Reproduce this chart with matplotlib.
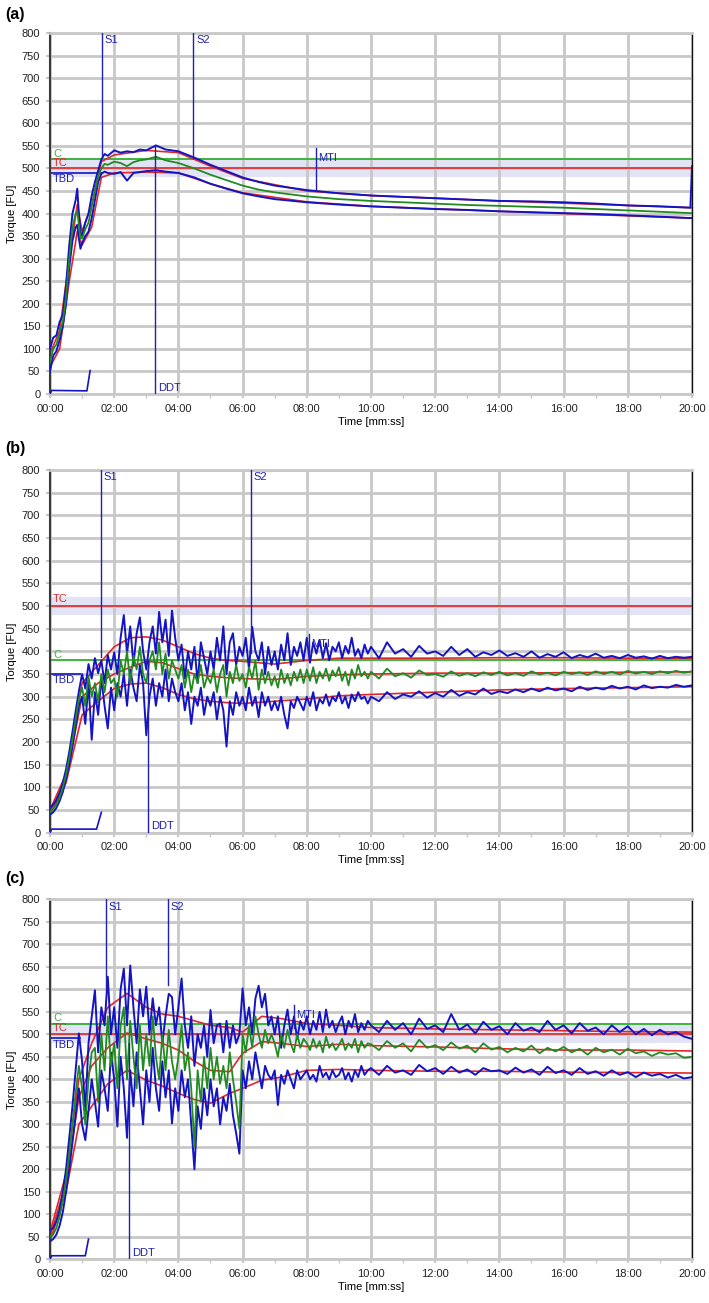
import numpy as np
import matplotlib
matplotlib.use('Agg')
import matplotlib.pyplot as plt
from matplotlib.ticker import MultipleLocator

plt.rcParams['font.family'] = ['Liberation Sans', 'DejaVu Sans']

# colours
BLUE = '#1414c4'
GREEN = '#218a21'
CGREEN = '#3cb43c'
RED = '#e02828'
MARK = '#2020b4'
GRID = '#c8c8c8'
BAND = '#e3e3f6'

# tick labels (minutes on the axis)
xtick_pos = [0, 2, 4, 6, 8, 10, 12, 14, 16, 18, 20]
xtick_labels = ['00:00', '02:00', '04:00', '06:00', '08:00', '10:00',
                '12:00', '14:00', '16:00', '18:00', '20:00']
ytick_pos = list(range(0, 801, 50))

# ---------------- panel (a) ----------------
t_a = [0, 0.1, 0.2, 0.3, 0.4, 0.5, 0.6, 0.7, 0.8, 0.85, 0.9, 0.95, 1.0, 1.1, 1.2,
       1.3, 1.4, 1.5, 1.6, 1.7, 1.8, 2.0, 2.2, 2.4, 2.6, 2.8, 3.0, 3.3, 3.6, 4.0,
       4.5, 5.0, 5.5, 6.0, 6.5, 7.0, 8.0, 9.0, 10, 11, 12, 13, 14, 15, 16, 17, 18,
       19, 19.95, 20]
upper_a = [100, 125, 130, 160, 175, 240, 330, 400, 430, 455, 400, 360, 350, 380, 400,
           440, 470, 495, 520, 532, 528, 540, 535, 538, 536, 542, 540, 551, 542, 538,
           524, 508, 494, 480, 470, 462, 452, 445, 440, 437, 434, 431, 428, 427, 425, 422, 418,
           416, 413, 505]
lower_a = [50, 85, 95, 120, 150, 200, 280, 340, 370, 375, 345, 322, 335, 350, 360,
           390, 430, 470, 488, 493, 490, 488, 492, 473, 490, 492, 494, 496, 493, 490,
           480, 466, 455, 445, 438, 432, 425, 420, 416, 413, 410, 408, 405, 403, 401, 399, 396,
           393, 390, 390]
green_a = [70, 100, 110, 135, 160, 215, 300, 370, 400, 405, 375, 345, 345, 365, 380,
           415, 450, 482, 500, 510, 508, 515, 512, 505, 514, 518, 520, 526, 518, 512,
           500, 486, 474, 462, 453, 447, 438, 432, 428, 425, 422, 419, 417, 415, 413, 410, 407,
           404, 401, 401]
t_red_a = [0, 0.3, 0.6, 0.85, 1.0, 1.3, 1.6, 2.0, 3.0, 4.0, 5.0, 6.0, 8.0, 10, 14, 20]
red_up_a = [90, 140, 300, 420, 360, 420, 515, 530, 540, 535, 505, 478, 450, 440, 428, 413]
red_lo_a = [60, 100, 250, 360, 330, 370, 480, 490, 492, 490, 466, 446, 426, 416, 405, 390]
t_small_a = [0, 0.05, 1.15, 1.25]
small_a = [0, 8, 7, 52]

# ---------------- panel (b) ----------------
t_noisy = np.concatenate([np.arange(0, 10, 0.1), np.arange(10, 20.01, 0.25)])
upper_b = [55, 62, 72, 88, 110, 140, 178, 222, 268, 312,
           350, 318, 372, 340, 385, 352, 380, 330, 392, 360,
           398, 350, 430, 480, 395, 455, 370, 440, 475, 400,
           360, 420, 455, 395, 487, 420, 470, 390, 490, 430,
           380, 415, 340, 400, 360, 410, 330, 420, 385, 350,
           400, 360, 430, 380, 455, 350, 420, 440, 370, 410,
           390, 430, 360, 454, 400, 380, 420, 350, 410, 370,
           400, 360, 415, 380, 440, 370, 410, 390, 420, 380,
           430, 375, 420, 395, 425, 385, 418, 380, 410, 400,
           420, 385, 412, 395, 430, 390, 405, 385, 415, 395,
           410, 385, 420, 395, 405, 388, 412, 395, 400, 390, 410, 392, 405, 388,
           398, 392, 402, 390, 396, 388, 400, 386, 394, 388, 398, 385, 392, 387,
           395, 386, 390, 385, 392, 386, 389, 384, 390, 385, 388, 386, 388]
lower_b = [40, 45, 55, 70, 90, 118, 150, 190, 235, 280,
           300, 240, 330, 205, 310, 260, 340, 280, 230, 320,
           270, 330, 300, 350, 280, 360, 320, 290, 370, 330,
           215, 300, 340, 280, 330, 300, 360, 290, 340, 310,
           290, 330, 270, 310, 240, 300, 280, 320, 260, 300,
           280, 310, 250, 300, 270, 190, 290, 260, 310, 280,
           300, 270, 320, 280, 300, 255, 310, 280, 300, 270,
           290, 270, 300, 260, 230, 290, 275, 300, 285, 270,
           300, 280, 310, 270, 295, 285, 305, 280, 300, 290,
           310, 285, 300, 275, 305, 290, 310, 295, 300, 285,
           300, 290, 310, 295, 305, 300, 312, 298, 308, 300, 315, 302, 310, 305,
           318, 306, 312, 308, 316, 310, 318, 312, 320, 314, 318, 312, 322, 315,
           320, 316, 324, 318, 322, 316, 325, 319, 322, 320, 326, 322, 325]
green_b = [45, 52, 62, 78, 100, 128, 165, 205, 250, 295,
           320, 280, 345, 300, 330, 290, 350, 310, 360, 330,
           340, 300, 380, 350, 400, 330, 390, 360, 410, 350,
           330, 380, 400, 360, 420, 350, 395, 340, 380, 360,
           340, 370, 320, 360, 310, 350, 330, 370, 320, 345,
           330, 360, 310, 350, 370, 300, 355, 330, 370, 335,
           350, 320, 365, 340, 380, 315, 360, 330, 355, 325,
           345, 320, 360, 330, 350, 325, 355, 335, 360, 330,
           360, 335, 365, 330, 355, 340, 362, 335, 358, 345,
           365, 335, 355, 325, 360, 340, 370, 345, 355, 340,
           355, 340, 362, 345, 352, 342, 358, 348, 350, 344, 356, 346, 352, 345,
           354, 348, 355, 347, 352, 346, 356, 349, 353, 347, 355, 350, 354, 348,
           356, 350, 355, 349, 357, 351, 355, 350, 356, 352, 357, 353, 356]
t_red_b = [0, 0.5, 1, 1.5, 2, 2.5, 3, 3.5, 4, 4.5, 5, 5.5, 6, 7, 8, 9, 10, 12, 14, 16, 18, 20]
red_up_b = [50, 130, 330, 370, 410, 430, 432, 425, 410, 395, 385, 380, 378, 372, 380, 385, 385, 385, 386, 386, 385, 385]
red_mid_b = [45, 120, 300, 330, 350, 365, 378, 375, 362, 350, 345, 342, 340, 338, 345, 348, 350, 352, 352, 353, 354, 355]
red_lo_b = [40, 110, 260, 290, 318, 328, 330, 320, 305, 295, 290, 287, 285, 290, 295, 302, 305, 310, 315, 318, 320, 322]
t_small_b = [0, 0.05, 1.45, 1.6]
small_b = [0, 8, 8, 45]

# ---------------- panel (c) ----------------
upper_c = [65, 70, 85, 110, 150, 200, 270, 340, 420, 502,
           440, 330, 480, 540, 598, 460, 560, 520, 628, 500,
           560, 470, 600, 646, 520, 653, 560, 480, 600, 540,
           606, 500, 580, 520, 560, 480, 540, 590, 583, 500,
           560, 624, 520, 470, 540, 430, 500, 470, 520, 450,
           554, 480, 520, 524, 460, 530, 470, 520, 480, 500,
           602, 520, 560, 500, 580, 608, 560, 590, 520, 540,
           500, 540, 470, 520, 555, 500, 540, 490, 530, 510,
           540, 500, 530, 510, 550, 505, 555, 515, 530, 505,
           525, 540, 500, 530, 515, 545, 505, 525, 510, 530,
           520, 505, 530, 510, 525, 500, 535, 512, 520, 505, 545, 510, 522, 502,
           528, 510, 518, 500, 525, 508, 515, 505, 530, 510, 520, 502, 525, 508,
           515, 500, 520, 505, 518, 500, 512, 498, 510, 500, 505, 495, 490]
lower_c = [40, 45, 55, 75, 105, 150, 200, 260, 320, 380,
           300, 265, 330, 400, 350, 295, 420, 380, 330, 460,
           400, 295, 450, 380, 270, 420, 340, 460, 380, 300,
           420, 350, 470, 380, 330, 440, 360, 420, 302, 380,
           330, 420, 360, 400, 300, 200, 340, 290, 380, 320,
           400, 340, 380, 300, 360, 330, 390, 320, 280, 235,
           420, 380, 440, 400, 460, 420, 380, 430, 410, 400,
           420, 343, 410, 390, 420, 400, 380, 420, 400, 410,
           420, 400, 410, 395, 430, 405, 415, 400, 420, 405,
           410, 425, 400, 415, 395, 420, 405, 430, 410, 420,
           425, 410, 430, 415, 420, 410, 432, 418, 425, 412, 428, 415, 422, 410,
           425, 418, 420, 412, 426, 415, 422, 410, 428, 414, 420, 410, 425, 412,
           418, 408, 420, 410, 416, 405, 415, 408, 412, 404, 410, 402, 405]
green_c = [50, 55, 70, 95, 130, 175, 235, 300, 370, 430,
           380, 300, 400, 460, 470, 350, 500, 420, 540, 430,
           480, 380, 520, 560, 400, 530, 450, 380, 520, 420,
           500, 430, 540, 450, 400, 500, 420, 510, 440, 400,
           450, 520, 420, 460, 380, 250, 420, 350, 450, 380,
           470, 400, 450, 390, 430, 380, 460, 400, 350, 290,
           500, 460, 520, 470, 540, 500, 470, 510, 480, 500,
           480, 450, 500, 470, 510, 480, 460, 500, 470, 490,
           480, 465, 490, 470, 485, 460, 495, 470, 480, 465,
           475, 490, 465, 480, 470, 490, 460, 485, 470, 480,
           478, 465, 485, 470, 480, 462, 488, 470, 476, 465, 482, 468, 475, 460,
           480, 466, 472, 460, 470, 462, 475, 458, 470, 462, 472, 460, 468, 455,
           470, 460, 466, 455, 468, 458, 462, 452, 460, 455, 458, 448, 450]
t_red_c = [0, 0.5, 0.9, 1.3, 1.8, 2.4, 3.0, 3.5, 4.0, 4.5, 5.0, 5.6, 6.0, 6.6, 7.2, 8.0,
           9, 10, 12, 14, 16, 18, 20]
red_up_c = [60, 190, 400, 480, 560, 591, 560, 545, 540, 530, 520, 515, 505, 540, 535, 524,
            520, 515, 512, 510, 508, 506, 505]
red_mid_c = [50, 170, 360, 430, 470, 503, 490, 480, 465, 440, 420, 417, 458, 484, 480, 473,
             478, 475, 472, 468, 465, 465, 463]
red_lo_c = [40, 150, 300, 340, 390, 420, 398, 385, 369, 355, 347, 369, 380, 398, 405, 420,
            422, 420, 418, 418, 416, 415, 414]
t_small_c = [0, 0.05, 1.1, 1.2]
small_c = [0, 8, 8, 45]

# reference lines: C, TC, TBD level and TBD end time
ref_a = dict(c=520, tc=500, tbd=490, tbd_end=1.62)
ref_b = dict(c=380, tc=500, tbd=350, tbd_end=0.94)
ref_c = dict(c=524, tc=500, tbd=491, tbd_end=0.94)

# markers: (name, time, y from, y to)
marks_a = [('S1', 1.63, 528, 800), ('S2', 4.47, 524, 800), ('DDT', 3.28, 0, 551), ('MTI', 8.28, 451, 545)]
marks_b = [('S1', 1.58, 388, 800), ('S2', 6.25, 396, 800), ('DDT', 3.06, 0, 380), ('MTI', 8.07, 381, 438)]
marks_c = [('S1', 1.75, 600, 800), ('S2', 3.68, 610, 800), ('DDT', 2.47, 0, 480), ('MTI', 7.6, 515, 565)]

fig = plt.figure(figsize=(7.09, 13.03), dpi=100)

axes_pos = [[0.0705, 0.6976, 0.9055, 0.2770],
            [0.0705, 0.3609, 0.9055, 0.2784],
            [0.0705, 0.0335, 0.9055, 0.2763]]
panel_labels = ['(a)', '(b)', '(c)']
label_y = [1 - 7 / 1303, 1 - 441 / 1303, 1 - 871 / 1303]


def draw_panel(ax, t, up, lo, gr, t_red, reds, t_small, small, ref, marks, label_off):
    ax.set_xlim(0, 20)
    ax.set_ylim(0, 800)
    ax.axhspan(ref['tc'] - 20, ref['tc'] + 20, color=BAND, zorder=0, lw=0)
    ax.set_axisbelow(True)
    ax.set_xticks(xtick_pos)
    ax.set_xticklabels(xtick_labels)
    ax.xaxis.set_minor_locator(MultipleLocator(1))
    ax.set_yticks(ytick_pos)
    ax.grid(True, which='major', color=GRID, lw=2)
    ax.tick_params(which='both', colors=GRID, labelcolor='#222222', labelsize=8,
                   width=1.5, length=3, pad=4)
    ax.tick_params(axis='x', which='minor', length=3, width=1)
    for s in ['top', 'bottom']:
        ax.spines[s].set_color(GRID)
        ax.spines[s].set_linewidth(2)
    ax.spines['left'].set_color('#3a3a3a')
    ax.spines['left'].set_linewidth(1.5)
    ax.spines['right'].set_color('#111111')
    ax.spines['right'].set_linewidth(1)

    ax.axhline(ref['tc'], color=RED, lw=1.2, zorder=1.5)
    ax.axhline(ref['c'], color=CGREEN, lw=1.4, zorder=1.6)
    ax.plot([0, ref['tbd_end']], [ref['tbd'], ref['tbd']], color=BLUE, lw=1.2, zorder=1.7)

    for r in reds:
        ax.plot(t_red, r, color=RED, lw=1.2, zorder=2)
    ax.plot(t, up, color=BLUE, lw=1.4, zorder=3)
    ax.plot(t, lo, color=BLUE, lw=1.4, zorder=3)
    ax.plot(t, gr, color=GREEN, lw=1.3, zorder=4)
    ax.plot(t_small, small, color=BLUE, lw=1.2, zorder=3)

    ax.text(0.1, ref['c'] + 2, 'C', color=CGREEN, fontsize=8, va='bottom', zorder=5)
    ax.text(0.1, ref['tc'] + label_off, 'TC', color=RED, fontsize=8, va='bottom', zorder=5)
    ax.text(0.1, ref['tbd'] - 3, 'TBD', color=MARK, fontsize=8, va='top', zorder=5)

    for name, tm, y0, y1 in marks:
        ax.plot([tm, tm], [y0, y1], color=MARK, lw=1.0, zorder=5)
        if name in ('S1', 'S2'):
            ax.text(tm + 0.08, 795, name, color=MARK, fontsize=8, va='top', zorder=6)
        elif name == 'DDT':
            ax.text(tm + 0.08, 3, name, color=MARK, fontsize=8, va='bottom', zorder=6)
        else:
            ax.text(tm + 0.08, y1 - 22, name, color=MARK, fontsize=8, va='center', zorder=6)

    ax.set_xlabel('Time [mm:ss]', fontsize=8, labelpad=2)
    ax.set_ylabel('Torque [FU]', fontsize=8)
    ax.yaxis.set_label_coords(-0.052, 0.5)


panels = [
    (t_a, upper_a, lower_a, green_a, t_red_a, [red_up_a, red_lo_a], t_small_a, small_a, ref_a, marks_a, 2),
    (t_noisy, upper_b, lower_b, green_b, t_red_b, [red_up_b, red_mid_b, red_lo_b], t_small_b, small_b, ref_b, marks_b, 5),
    (t_noisy, upper_c, lower_c, green_c, t_red_c, [red_up_c, red_mid_c, red_lo_c], t_small_c, small_c, ref_c, marks_c, 4),
]

for i, p in enumerate(panels):
    ax = fig.add_axes(axes_pos[i])
    draw_panel(ax, *p)
    fig.text(5 / 709, label_y[i], panel_labels[i], fontsize=11.5, fontweight='bold', va='top')

fig.savefig('out.png', dpi=100)
